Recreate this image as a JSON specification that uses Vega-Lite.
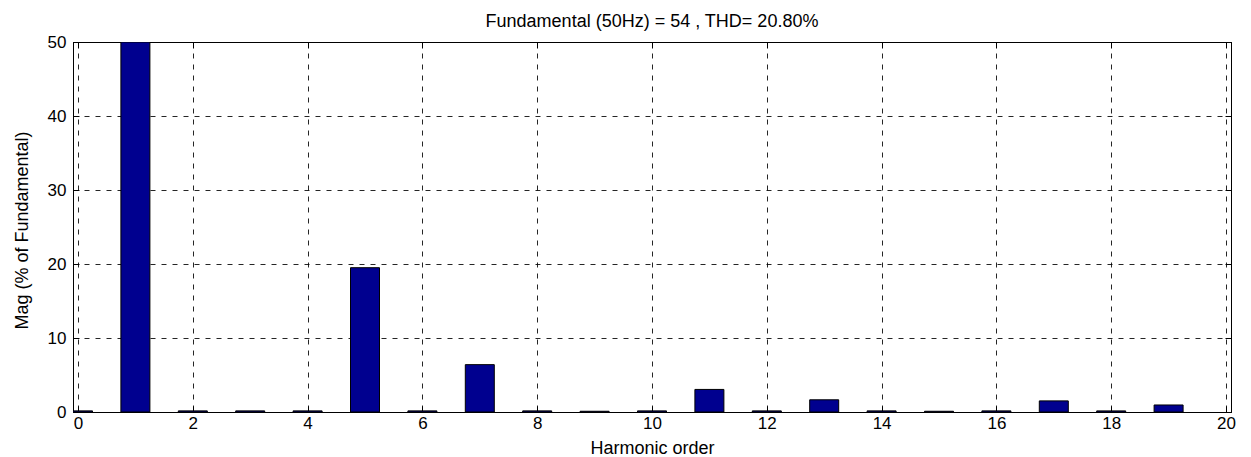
{
  "$schema": "https://vega.github.io/schema/vega-lite/v6.json",
  "width": 1158,
  "height": 370,
  "autosize": {"type": "none"},
  "padding": {"left": 73, "top": 42, "right": 20, "bottom": 45},
  "background": "white",
  "title": {
    "text": "Fundamental (50Hz) = 54 , THD= 20.80%",
    "font": "Liberation Sans",
    "fontSize": 18,
    "fontWeight": "normal",
    "color": "#000000",
    "anchor": "middle",
    "baseline": "alphabetic",
    "offset": -12
  },
  "data": {
    "values": [
      {"h": 0, "mag": 0.15},
      {"h": 1, "mag": 100},
      {"h": 2, "mag": 0.15},
      {"h": 3, "mag": 0.15},
      {"h": 4, "mag": 0.15},
      {"h": 5, "mag": 19.5},
      {"h": 6, "mag": 0.15},
      {"h": 7, "mag": 6.4},
      {"h": 8, "mag": 0.15},
      {"h": 9, "mag": 0.1},
      {"h": 10, "mag": 0.15},
      {"h": 11, "mag": 3.05},
      {"h": 12, "mag": 0.15},
      {"h": 13, "mag": 1.65},
      {"h": 14, "mag": 0.15},
      {"h": 15, "mag": 0.1},
      {"h": 16, "mag": 0.15},
      {"h": 17, "mag": 1.5},
      {"h": 18, "mag": 0.15},
      {"h": 19, "mag": 0.95}
    ]
  },
  "layer": [
    {
      "mark": {"type": "bar", "width": 29, "fill": "#00008F", "stroke": "#000000", "strokeWidth": 1, "clip": true},
      "encoding": {
        "x": {
          "field": "h", "type": "quantitative",
          "scale": {"domain": [0, 20], "nice": false, "zero": false},
          "axis": {
            "orient": "bottom",
            "values": [0, 2, 4, 6, 8, 10, 12, 14, 16, 18, 20],
            "title": "Harmonic order",
            "titleY": 41,
            "titleBaseline": "alphabetic",
            "grid": true,
            "tickSize": -6,
            "labelPadding": 9,
            "labelFlush": false
          }
        },
        "y": {
          "field": "mag", "type": "quantitative",
          "scale": {"domain": [0, 50], "nice": false, "clamp": true},
          "axis": {
            "orient": "left",
            "values": [0, 10, 20, 30, 40, 50],
            "title": "Mag (% of Fundamental)",
            "titleX": -51,
            "titleY": 188,
            "titleBaseline": "middle",
            "titleAlign": "center",
            "titleAngle": -90,
            "grid": true,
            "tickSize": -6,
            "labelPadding": 13,
            "labelFlush": false
          }
        }
      }
    },
    {
      "mark": {"type": "point", "opacity": 0, "clip": true},
      "encoding": {
        "x": {
          "field": "h", "type": "quantitative",
          "axis": {"orient": "top", "values": [0, 2, 4, 6, 8, 10, 12, 14, 16, 18, 20], "labels": false, "title": null, "grid": false, "tickSize": -6}
        },
        "y": {
          "field": "mag", "type": "quantitative",
          "axis": {"orient": "right", "values": [0, 10, 20, 30, 40, 50], "labels": false, "title": null, "grid": false, "tickSize": -6}
        }
      }
    }
  ],
  "resolve": {"axis": {"x": "independent", "y": "independent"}},
  "config": {
    "view": {"stroke": "#000000", "strokeWidth": 1},
    "axis": {
      "labelFont": "Liberation Sans",
      "labelFontSize": 17,
      "labelColor": "#000000",
      "titleFont": "Liberation Sans",
      "titleFontSize": 18,
      "titleFontWeight": "normal",
      "titleColor": "#000000",
      "domainColor": "#000000",
      "domainWidth": 1,
      "tickColor": "#000000",
      "tickWidth": 1,
      "gridColor": "#000000",
      "gridOpacity": 0.85,
      "gridDash": [5, 6],
      "gridWidth": 1
    }
  }
}
